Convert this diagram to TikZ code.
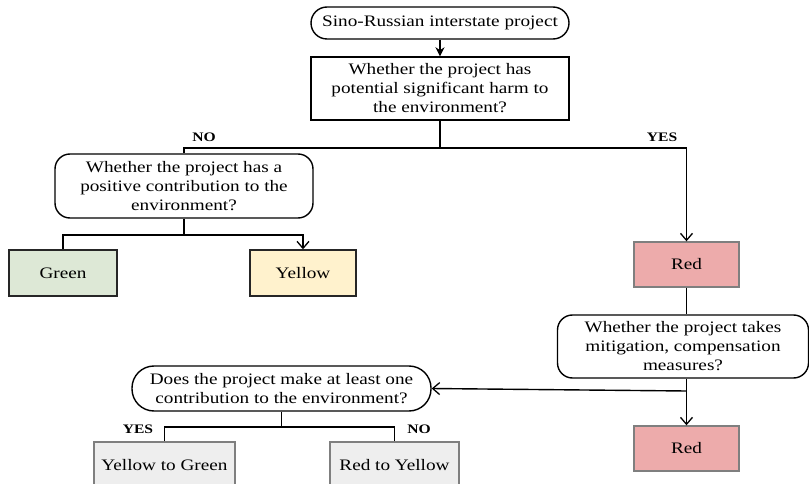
\documentclass[tikz,border=0pt]{standalone}
\usepackage{fontspec}
\setmainfont{Liberation Serif}[FakeStretch=1.2]
\usetikzlibrary{arrows.meta}
\definecolor{gfill}{HTML}{DDE8D6}
\definecolor{yfill}{HTML}{FFF2CD}
\definecolor{rfill}{HTML}{EDABAB}
\definecolor{lgfill}{HTML}{EEEEEE}
\definecolor{gborder}{HTML}{7F7F7F}
\begin{document}
\begin{tikzpicture}[x=1pt,y=-1pt,
  every node/.style={font=\fontsize{16}{19}\selectfont, align=center, inner sep=0pt},
  base/.style={draw=black, line width=1.4pt},
  rbox/.style={base, rounded corners=15pt},
  pill/.style={base, rounded corners=16pt},
  qbox/.style={base},
  cbox/.style={draw=black!85, line width=1.4pt},
  redbox/.style={draw=gborder, line width=1.4pt, fill=rfill},
  graybox/.style={draw=gborder, line width=1.4pt, fill=lgfill},
  lab/.style={font=\fontsize{13}{15}\selectfont\bfseries},
  conn/.style={line width=1.4pt},
  oarr/.style={conn, -{Straight Barb[length=7pt,width=12pt,line width=1.3pt]}},
  farr/.style={conn, -{Stealth[length=9pt,width=9pt]}}
]
\useasboundingbox (0,0) rectangle (809,484);
\begin{scope}
\clip (0,0) rectangle (809,484);
\node[pill, minimum width=258pt, minimum height=32pt] (top) at (440,23) {Sino-Russian interstate project};
\node[qbox, minimum width=258pt, minimum height=63pt] (harm) at (440,88.5) {Whether the project has\\potential significant harm to\\the environment?};
\node[rbox, minimum width=258pt, minimum height=64pt] (pos) at (184,186) {Whether the project has a\\positive contribution to the\\environment?};
\node[cbox, fill=gfill, minimum width=108pt, minimum height=46pt] (green) at (63,273) {Green};
\node[cbox, fill=yfill, minimum width=106pt, minimum height=46pt] (yellow) at (303,273) {Yellow};
\node[redbox, minimum width=105pt, minimum height=45pt] (red1) at (686.5,264.5) {Red};
\node[rbox, minimum width=251pt, minimum height=63pt] (mit) at (683,346.5) {Whether the project takes\\mitigation, compensation\\measures?};
\node[redbox, minimum width=105pt, minimum height=45pt] (red2) at (686.5,448.5) {Red};
\node[base, rounded corners=22pt, minimum width=299pt, minimum height=45pt] (one) at (281.5,388.5) {Does the project make at least one\\contribution to the environment?};
\node[graybox, minimum width=141pt, minimum height=46pt] (ytog) at (164.5,465) {Yellow to Green};
\node[graybox, minimum width=129pt, minimum height=46pt] (rtoy) at (394.5,465) {Red to Yellow};

\coordinate (j1) at (440,148);
\coordinate (j2) at (184,235);
\coordinate (j3) at (686.5,391);
\coordinate (j4) at (281.5,427);

\draw[farr] (top) -- (harm);
\draw[conn] (harm.south) -- (j1);
\draw[conn] (j1) -| (pos.north);
\draw[oarr] (j1) -| (red1.north);
\draw[conn] (pos.south) -- (j2);
\draw[conn] (j2) -| (green.north);
\draw[oarr] (j2) -| (yellow.north);
\draw[conn] (red1.south) -- (red1.south |- mit.north);
\draw[conn] (red1.south |- mit.south) -- (j3);
\draw[oarr] (j3) -- (red2.north);
\draw[oarr] (j3) -- (one.east);
\draw[conn] (one.south) -- (j4);
\draw[conn] (j4) -| (ytog.north);
\draw[conn] (j4) -| (rtoy.north);

\node[lab] (no1) at (204,137) {NO};
\node[lab] (yes1) at (662,137) {YES};
\node[lab] (yes2) at (138,429) {YES};
\node[lab] (no2) at (419,429) {NO};
\end{scope}
\end{tikzpicture}
\end{document}
